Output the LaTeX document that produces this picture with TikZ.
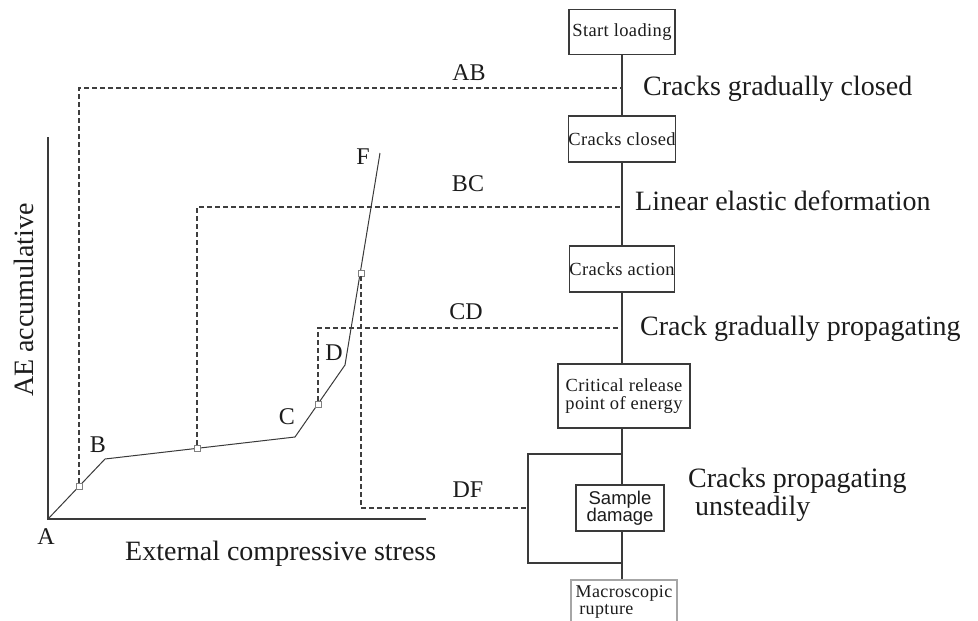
\documentclass[tikz,border=0pt]{standalone}
\usepackage{fontspec}
\setmainfont{Liberation Serif}
\setsansfont{Liberation Sans}
\definecolor{lc}{HTML}{3A3A3A}
\definecolor{dc}{HTML}{3E3E3E}
\definecolor{tc}{HTML}{1C1C1C}
\begin{document}
\begin{tikzpicture}[x=1pt,y=-1pt,
 ln/.style={draw=lc, line width=1.1pt},
 dsh/.style={draw=dc, line width=1.2pt, dash pattern=on 5pt off 3pt},
 box/.style={draw=lc, line width=1.1pt, fill=white, inner sep=0pt, align=center,
   font=\addfontfeatures{LetterSpace=2}\fontsize{18.5}{18}\selectfont, text=tc},
 sq/.style={draw=gray, fill=white, minimum size=6pt, inner sep=0pt, line width=0.8pt},
 ptlab/.style={font=\fontsize{24}{24}\selectfont, text=tc, inner sep=0pt},
 big/.style={font=\fontsize{28}{28}\selectfont, text=tc, inner sep=0pt},
]
\clip (0,0) rectangle (978,621);
\fill[white] (0,0) rectangle (978,621);

% axes
\coordinate (A) at (48,519);
\coordinate (ytop) at (48,137);
\coordinate (xend) at (426,519);
\draw[ln] (ytop) -- (A) -- (xend);

% curve
\coordinate (B) at (105,459);
\coordinate (C) at (295,437);
\coordinate (D) at (345,365);
\coordinate (F) at (380,153);
\draw[ln, line width=1pt] (A) -- (B) -- (C) -- (D) -- (F);

% letters
\node[ptlab] (lA) at (46,537) {A};
\node[ptlab] (lB) at (98,445) {B};
\node[ptlab] (lC) at (287,417) {C};
\node[ptlab] (lD) at (334,353) {D};
\node[ptlab] (lF) at (363,157) {F};

% axis titles
\node[big, rotate=90, anchor=base] (ylab) at (33,300) {AE accumulative};
\node[big, anchor=base west] (xlab) at (125,560) {External compressive stress};

% flow boxes
\node[box, minimum width=106pt, minimum height=45pt] (start) at (622,32) {Start loading};
\node[box, minimum width=106pt, minimum height=46pt] (closed) at (622,139) {Cracks closed};
\node[box, minimum width=105pt, minimum height=46pt] (action) at (622,269) {Cracks action};
\node[box, minimum width=132pt, minimum height=64pt] (critical) at (624,396) {Critical release\\point of energy};
\node[box, minimum width=88pt, minimum height=46pt, font=\sffamily\fontsize{18.5}{17.5}\selectfont] (sample) at (620,508) {Sample\\damage};
\node[box, draw=gray!70, minimum width=106pt, minimum height=44pt, align=left,
  font=\addfontfeatures{LetterSpace=2}\fontsize{18}{16.5}\selectfont] (macro) at (624,602) {Macroscopic\\\hspace{0.2em}rupture};

% vertical chain
\draw[ln] (start.south) -- (closed.north);
\draw[ln] (closed.south) -- (closed.south |- action.north);
\draw[ln] (action.south) -- (action.south |- critical.north);
\draw[ln] (action.south |- critical.south) -- (action.south |- sample.north);
\draw[ln] (action.south |- sample.south) -- (action.south |- macro.north);

% bracket
\coordinate (bt) at (622,454);
\coordinate (jDF) at (528,508);
\coordinate (bb) at (622,563);
\draw[ln] (bt) -| (jDF) |- (bb);

% junctions
\coordinate (jAB) at (622,88);
\coordinate (jBC) at (620,207);
\coordinate (jCD) at (622,328);

% squares
\node[sq] (sqAB) at (79,486) {};
\node[sq] (sqBC) at (197,448) {};
\node[sq] (sqCD) at (318,404) {};
\node[sq] (sqDF) at (361,273) {};

% dashed links
\draw[dsh] (sqAB.north) |- (jAB);
\draw[dsh] (sqBC.north) |- (jBC);
\draw[dsh] (sqCD.north) |- (jCD);
\draw[dsh] (sqDF.south) |- (jDF);

% stage labels
\node[ptlab] (tAB) at (469,73) {AB};
\node[ptlab] (tBC) at (468,184) {BC};
\node[ptlab] (tCD) at (466,312) {CD};
\node[ptlab] (tDF) at (468,490) {DF};

% descriptions
\node[big, anchor=base west] (dAB) at (643,95) {Cracks gradually closed};
\node[big, anchor=base west] (dBC) at (635,210) {Linear elastic deformation};
\node[big, anchor=base west] (dCD) at (640,335) {Crack gradually propagating};
\node[big, anchor=base west, align=left, font=\fontsize{28}{28}\selectfont] (dDF) at (688,515) {Cracks propagating\\\hspace{0.25em}unsteadily};
\end{tikzpicture}
\end{document}
